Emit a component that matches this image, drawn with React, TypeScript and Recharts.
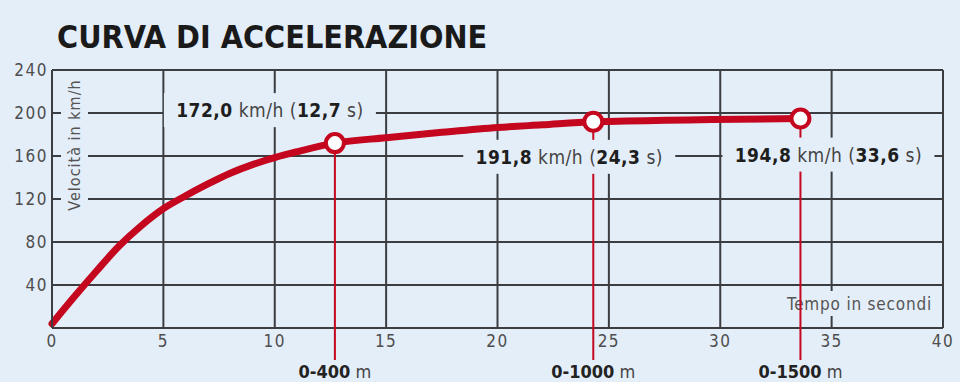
import React from 'react';
import { LineChart, Line, XAxis, YAxis, CartesianGrid, ReferenceDot } from 'recharts';

// acceleration curve: time (s) -> speed (km/h)
const times = [0, 1, 2, 3, 4, 5, 6, 7, 8, 9, 10, 11, 12.7, 15, 17.5, 20, 22, 24.3, 33.6];
const speeds = [4, 29, 53, 76, 95, 111, 123, 134, 144, 152, 158.5, 164, 172, 177, 182, 186.5, 189, 191.8, 194.8];

// measured points
const markTimes = [12.7, 24.3, 33.6];
const markSpeeds = [172.0, 191.8, 194.8];
const markDistances = ['0-400', '0-1000', '0-1500'];

const xTicks = [0, 5, 10, 15, 20, 25, 30, 35, 40];
const yTicks = [0, 40, 80, 120, 160, 200, 240];

const BG = '#e4eef9';
const GRID = '#3b3d40';
const RED = '#c5061f';
const FONT = "'DejaVu Sans Condensed', 'DejaVu Sans', sans-serif";

const W = 960;
const H = 382;
const M = { top: 70, right: 17, bottom: 0, left: 0 };
const X_AXIS_H = 54;
const PLOT_BOTTOM = H - M.bottom - X_AXIS_H;

// label placement relative to each marker (px)
const labelPos = [
  { dx: -65, dy: -33 },
  { dx: -24, dy: 35 },
  { dx: 28, dy: 36 },
];

const data = times.map((t, i) => ({ t, v: speeds[i] }));
const fmt = (n: number) => n.toFixed(1).replace('.', ',');

const Stem = ({ cx, cy, label }: any) => (
  <g>
    <line x1={cx} y1={cy} x2={cx} y2={PLOT_BOTTOM + 32} stroke={RED} strokeWidth={2} />
    <text x={cx} y={PLOT_BOTTOM + 43} textAnchor="middle" dominantBaseline="central"
      fontFamily={FONT} fontSize={18} fill="#222">
      <tspan fontWeight="bold">{label}</tspan>
      <tspan fill="#444"> m</tspan>
    </text>
  </g>
);

const LabelBox = ({ cx, cy, i }: any) => {
  const x = cx + labelPos[i].dx;
  const y = cy + labelPos[i].dy;
  return (
    <g>
      <rect x={x - 106} y={y - 17} width={212} height={34} fill={BG} />
      <text x={x} y={y} textAnchor="middle" dominantBaseline="central"
        fontFamily={FONT} fontSize={19} letterSpacing={0.5} fill="#1e1e1e">
        <tspan fontWeight="bold">{fmt(markSpeeds[i])}</tspan>
        <tspan fill="#444"> km/h (</tspan>
        <tspan fontWeight="bold">{fmt(markTimes[i])}</tspan>
        <tspan fill="#444"> s)</tspan>
      </text>
    </g>
  );
};

const Marker = ({ cx, cy }: any) => (
  <circle cx={cx} cy={cy} r={9} fill="#fff" stroke={RED} strokeWidth={4} />
);

const SpeedLabel = ({ viewBox }: any) => {
  const x = viewBox.x + viewBox.width + 22;
  const y = viewBox.y + 75;
  return (
    <g>
      <rect x={x - 13} y={y - 71} width={27} height={142} fill={BG} />
      <text x={x} y={y} transform={`rotate(-90 ${x} ${y})`} textAnchor="middle"
        dominantBaseline="central" fontFamily={FONT} fontSize={16} letterSpacing={1} fill="#555">
        Velocità in km/h
      </text>
    </g>
  );
};

const TimeLabel = ({ viewBox }: any) => {
  const right = viewBox.x + viewBox.width - 11;
  const y = viewBox.y - 24;
  return (
    <g>
      <rect x={right - 152} y={y - 13} width={156} height={25} fill={BG} />
      <text x={right} y={y} textAnchor="end" dominantBaseline="central"
        fontFamily={FONT} fontSize={17} letterSpacing={0.8} fill="#555">
        Tempo in secondi
      </text>
    </g>
  );
};

export default function App() {
  const tick = { fontSize: 17, fill: '#4d4d4d', fontFamily: FONT, letterSpacing: 1.5 };
  return (
    <div style={{ position: 'relative', width: W, height: H, background: BG, overflow: 'hidden' }}>
      <style>{`body{margin:0;background:${BG}}`}</style>
      <LineChart width={W} height={H} data={data} margin={M}>
        <CartesianGrid stroke={GRID} strokeWidth={2} />
        <XAxis dataKey="t" type="number" domain={[0, 40]} ticks={xTicks} height={X_AXIS_H}
          axisLine={{ stroke: GRID, strokeWidth: 2 }} tickLine={false} tickSize={0} tickMargin={7}
          tick={tick} label={{ content: TimeLabel }} />
        <YAxis type="number" domain={[0, 240]} ticks={yTicks} width={52}
          axisLine={{ stroke: GRID, strokeWidth: 2 }} tickLine={false} tickSize={0} tickMargin={4}
          tick={tick} tickFormatter={(v: number) => (v === 0 ? '' : String(v))}
          label={{ content: SpeedLabel }} />
        {markTimes.map((t, i) => (
          <ReferenceDot key={'s' + i} x={t} y={markSpeeds[i]} ifOverflow="visible"
            shape={(p: any) => <Stem {...p} label={markDistances[i]} />} />
        ))}
        {markTimes.map((t, i) => (
          <ReferenceDot key={'l' + i} x={t} y={markSpeeds[i]} ifOverflow="visible"
            shape={(p: any) => <LabelBox {...p} i={i} />} />
        ))}
        <Line type="monotone" dataKey="v" stroke={RED} strokeWidth={7} dot={false}
          strokeLinecap="round" isAnimationActive={false} />
        {markTimes.map((t, i) => (
          <ReferenceDot key={'m' + i} x={t} y={markSpeeds[i]} ifOverflow="visible" shape={Marker} />
        ))}
      </LineChart>
      <div style={{
        position: 'absolute', left: 57, top: 21, fontFamily: FONT, fontWeight: 'bold',
        fontSize: 32, lineHeight: '32px', color: '#1a1a1a', whiteSpace: 'nowrap',
      }}>
        CURVA DI ACCELERAZIONE
      </div>
    </div>
  );
}
